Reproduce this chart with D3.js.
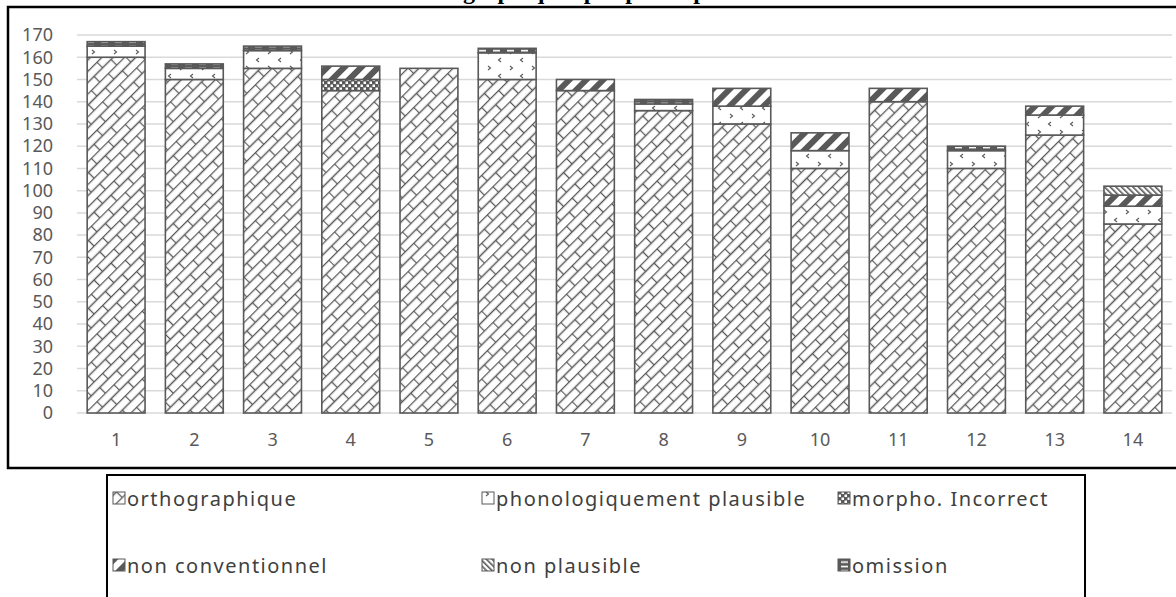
<!DOCTYPE html>
<html><head><meta charset="utf-8">
<script src="https://cdn.jsdelivr.net/npm/d3@7"></script>
<style>html,body{margin:0;padding:0;background:#fff;} svg{display:block;}</style>
</head><body>
<svg id="c" width="1176" height="597"></svg>
<script>
const categories = ["1","2","3","4","5","6","7","8","9","10","11","12","13","14"];
const orthographique = [160,150,155,145,155,150,145,136,130,110,140,110,125,85];
const phonoPlausible = [5,5,8,0,0,12,0,3,8,8,0,8,9,8];
const morphoIncorrect = [0,0,0,5,0,0,0,0,0,0,0,0,0,0];
const nonConventionnel = [0,0,0,6,0,0,5,0,8,8,6,0,4,5];
const nonPlausible = [0,0,0,0,0,0,0,0,0,0,0,0,0,4];
const omission = [2,2,2,0,0,2,0,2,0,0,0,2,0,0];
const seriesNames = ["orthographique","phonologiquement plausible","morpho. Incorrect","non conventionnel","non plausible","omission"];
const seriesValues = [orthographique, phonoPlausible, morphoIncorrect, nonConventionnel, nonPlausible, omission];
const yTicks = d3.range(0, 171, 10);
const titleText = "Erreurs orthographiques par participant";

const svg = d3.select("#c");
const defs = svg.append("defs");
const ink = "#595959";

// patterns
const pOrtho = defs.append("pattern").attr("id","pat0").attr("patternUnits","userSpaceOnUse")
  .attr("width",24).attr("height",16).attr("patternTransform","rotate(-45)");
pOrtho.append("rect").attr("width",24).attr("height",16).attr("fill","#fff");
pOrtho.append("path").attr("d","M0,0.5H24 M0,8.5H24 M0.5,0V8.5 M12.5,8.5V16")
  .attr("stroke",ink).attr("stroke-width",1.3).attr("fill","none");

const pPhon = defs.append("pattern").attr("id","pat1").attr("patternUnits","userSpaceOnUse")
  .attr("width",22).attr("height",16);
pPhon.append("rect").attr("width",22).attr("height",16).attr("fill","#fff");
pPhon.append("path").attr("d","M4,2 l2.5,2 l-2.5,2 M17,10 l-2.5,2 l2.5,2")
  .attr("stroke",ink).attr("stroke-width",1.1).attr("fill","none");

const pMorpho = defs.append("pattern").attr("id","pat2").attr("patternUnits","userSpaceOnUse")
  .attr("width",6).attr("height",6);
pMorpho.append("rect").attr("width",6).attr("height",6).attr("fill",ink);
pMorpho.append("rect").attr("x",0.5).attr("y",0.5).attr("width",2.5).attr("height",2.5).attr("fill","#fff");
pMorpho.append("rect").attr("x",3.5).attr("y",3.5).attr("width",2.5).attr("height",2.5).attr("fill","#fff");

const pNonConv = defs.append("pattern").attr("id","pat3").attr("patternUnits","userSpaceOnUse")
  .attr("width",12).attr("height",12).attr("patternTransform","rotate(45)");
pNonConv.append("rect").attr("width",12).attr("height",12).attr("fill","#fff");
pNonConv.append("rect").attr("width",6).attr("height",12).attr("fill",ink);

const pNonPl = defs.append("pattern").attr("id","pat4").attr("patternUnits","userSpaceOnUse")
  .attr("width",4).attr("height",4).attr("patternTransform","rotate(-45)");
pNonPl.append("rect").attr("width",4).attr("height",4).attr("fill","#fff");
pNonPl.append("rect").attr("width",1.6).attr("height",4).attr("fill",ink);

const pOmi = defs.append("pattern").attr("id","pat5").attr("patternUnits","userSpaceOnUse")
  .attr("width",14).attr("height",4.4);
pOmi.append("rect").attr("width",14).attr("height",4.4).attr("fill",ink);
pOmi.append("rect").attr("x",3).attr("y",1.5).attr("width",7).attr("height",1.6).attr("fill","#fff");

// title (cut off at top like the reference)
svg.append("text").attr("x",530).attr("y",-1).attr("text-anchor","middle")
  .attr("font-family","Liberation Serif").attr("font-weight","bold").attr("font-size",24)
  .attr("fill","#000").text(titleText);

// chart frame
svg.append("rect").attr("x",8).attr("y",7).attr("width",1180).attr("height",461)
  .attr("fill","none").attr("stroke","#000").attr("stroke-width",2.5);

const x = d3.scaleBand().domain(categories).range([77,1172]).paddingInner(0.26).paddingOuter(0.13);
const y = d3.scaleLinear().domain([0,170]).range([413,35]);

// gridlines
svg.append("g").selectAll("line").data(yTicks).join("line")
  .attr("x1",77).attr("x2",1172).attr("y1",d=>y(d)).attr("y2",d=>y(d))
  .attr("stroke","#d9d9d9").attr("stroke-width",1.5);

// y axis labels
const yAxis = svg.append("g").attr("transform","translate(77,0)")
  .call(d3.axisLeft(y).tickValues(yTicks).tickSize(0).tickPadding(24));
yAxis.select(".domain").remove();
yAxis.selectAll("text").attr("font-family","Noto Sans").attr("font-size",18).attr("fill",ink);

// x axis labels
const xAxis = svg.append("g").attr("transform","translate(0,413)")
  .call(d3.axisBottom(x).tickSize(0).tickPadding(20));
xAxis.select(".domain").remove();
xAxis.selectAll("text").attr("font-family","Noto Sans").attr("font-size",18).attr("fill",ink);

// stacked data
const table = categories.map((c,i)=>{const o={cat:c}; seriesNames.forEach((s,k)=>o[s]=seriesValues[k][i]); return o;});
const stack = d3.stack().keys(seriesNames)(table);

svg.append("g").selectAll("g").data(stack).join("g")
  .attr("fill",(d,i)=>`url(#pat${i})`)
  .selectAll("rect").data(d=>d.filter(e=>e[1]-e[0]>0)).join("rect")
  .attr("x",d=>x(d.data.cat)).attr("width",x.bandwidth())
  .attr("y",d=>y(d[1])).attr("height",d=>y(d[0])-y(d[1]))
  .attr("stroke",ink).attr("stroke-width",1.6);

// legend
svg.append("rect").attr("x",107).attr("y",475).attr("width",978).attr("height",140)
  .attr("fill","#fff").attr("stroke","#000").attr("stroke-width",2);
const colX = [113,482,838];
const rowY = [506,573];
const leg = svg.append("g").selectAll("g").data(seriesNames).join("g")
  .attr("transform",(d,i)=>`translate(${colX[i%3]},${rowY[Math.floor(i/3)]})`);
leg.append("rect").attr("x",0).attr("y",-14).attr("width",12).attr("height",12)
  .attr("fill",(d,i)=>`url(#pat${i})`).attr("stroke",ink).attr("stroke-width",1);
leg.append("text").attr("x",14).attr("y",0)
  .attr("font-family","Noto Sans").attr("font-size",20).attr("letter-spacing",1.5).attr("fill","#404040")
  .text(d=>d);
</script>
</body></html>
